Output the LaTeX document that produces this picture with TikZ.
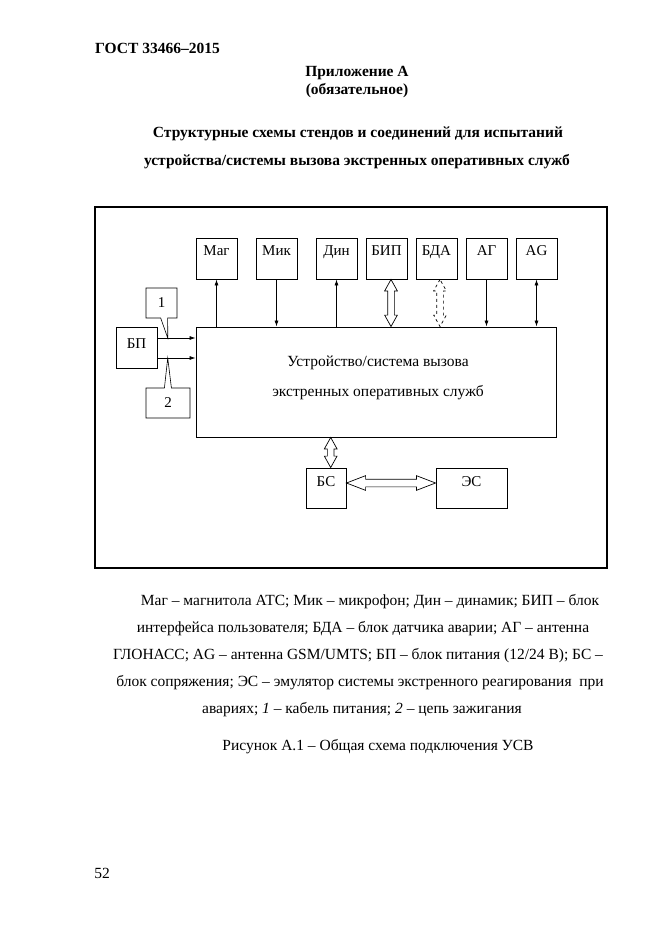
\documentclass[tikz,border=0pt]{standalone}
\usepackage{fontspec}
\setmainfont{Liberation Serif}
\usetikzlibrary{calc, positioning, arrows.meta, shapes.arrows, shapes.callouts}

\begin{document}
\begin{tikzpicture}[x=1pt, y=-1pt, >={Latex[length=6pt, width=4pt]},
  blk/.style={draw, line width=0.9pt, minimum width=41pt, minimum height=41pt, inner sep=0pt,
    text height=10pt, text depth=16pt, font=\fontsize{15}{16}\selectfont},
  txt/.style={font=\fontsize{15.5}{17}\selectfont},
  hdr/.style={font=\bfseries\fontsize{15.5}{17}\selectfont},
  lnk/.style={->, line width=0.7pt},
  fat/.style={double arrow, draw, line width=0.7pt, inner xsep=0pt, inner ysep=3pt,
    double arrow head extend=3pt, double arrow tip angle=58},
  call/.style={rectangle callout, draw, line width=0.6pt, inner sep=0pt, callout pointer width=7pt,
    font=\fontsize{15}{16}\selectfont}]
  \useasboundingbox (0,0) rectangle (661,935);

  % headings
  \node[hdr, anchor=west, inner sep=0pt] (gost) at (95,48) {ГОСТ 33466–2015};
  \node[hdr] (pril) at (357,73) {Приложение А};
  \node[hdr] (obyaz) at (357,91) {(обязательное)};
  \node[hdr] (title1) at (358,134) {Структурные схемы стендов и соединений для испытаний};
  \node[hdr] (title2) at (357,162) {устройства/системы вызова экстренных оперативных служб};

  % frame
  \draw[line width=1.2pt] (95,207) rectangle (607,568);

  % top blocks
  \node[blk] (mag) at (216.5,258.5) {Маг};
  \node[blk] (mik) at (276.5,258.5) {Мик};
  \node[blk] (din) at (336.5,258.5) {Дин};
  \node[blk] (bip) at (386.5,258.5) {БИП};
  \node[blk] (bda) at (436.5,258.5) {БДА};
  \node[blk] (ag) at (486.5,258.5) {АГ};
  \node[blk] (gsm) at (536.5,258.5) {AG};

  % main unit
  \node[draw, line width=0.9pt, minimum width=360pt, minimum height=110pt] (usv) at (376,382) {};
  \node[align=center, font=\fontsize{15.5}{30}\selectfont] (usvtxt) at (378,378)
    {Устройство/система вызова\\экстренных оперативных служб};

  % power supply
  \node[blk, text depth=8pt] (bp) at (136.5,347.5) {БП};

  % bottom blocks
  \node[blk, minimum width=40pt, minimum height=40pt, text depth=13pt] (bs) at (326,488) {БС};
  \node[blk, minimum width=71pt, minimum height=40pt, text depth=13pt] (es) at (471.5,488) {ЭС};

  % links
  \draw[lnk] (usv.north -| mag) -- (mag.south);
  \draw[lnk] (mik.south) -- (mik.south |- usv.north);
  \draw[lnk] (usv.north -| din) -- (din.south);
  \path let \p1=([xshift=4.5pt]bip.south), \p2=(\p1 |- usv.north) in
    node[fat, rotate=90, minimum height={veclen(\x2-\x1,\y2-\y1)}] (fbip) at ($(\p1)!.5!(\p2)$) {};
  \path let \p1=([xshift=3.5pt]bda.south), \p2=(\p1 |- usv.north) in
    node[fat, dashed, rotate=90, minimum height={veclen(\x2-\x1,\y2-\y1)}] (fbda) at ($(\p1)!.5!(\p2)$) {};
  \draw[lnk] (ag.south) -- (ag.south |- usv.north);
  \draw[lnk, <->] (gsm.south) -- (gsm.south |- usv.north);

  \draw[lnk] ([yshift=9.5pt]bp.east) coordinate (k1) -- (k1 -| usv.west);
  \draw[lnk] ([yshift=-10.5pt]bp.east) coordinate (k2) -- (k2 -| usv.west);
  \coordinate (p1) at ($(k1)!0.27!(k1 -| usv.west)$);
  \coordinate (p2) at ($(k2)!0.27!(k2 -| usv.west)$);
  \node[call, minimum width=31pt, minimum height=30pt, callout absolute pointer={(p1)}] (c1) at (161.5,303) {1};
  \node[call, minimum width=44pt, minimum height=30pt, callout absolute pointer={(p2)}] (c2) at (168,403) {2};

  \path let \p1=([xshift=4.7pt]bs.north), \p2=(\p1 |- usv.south) in
    node[fat, rotate=90, minimum height={veclen(\x2-\x1,\y2-\y1)}] (fbs) at ($(\p1)!.5!(\p2)$) {};
  \path let \p1=([yshift=5pt]bs.east), \p2=([yshift=5pt]es.west) in
    node[fat, inner ysep=3.5pt, double arrow head extend=3.5pt, double arrow tip angle=42,
      minimum height={veclen(\x2-\x1,\y2-\y1)}] (fes) at ($(\p1)!.5!(\p2)$) {};

  % legend
  \node[txt] (leg1) at (370,601.5) {Маг – магнитола АТС; Мик – микрофон; Дин – динамик; БИП – блок};
  \node[txt] (leg2) at (363,628.5) {интерфейса пользователя; БДА – блок датчика аварии; АГ – антенна};
  \node[txt] (leg3) at (358,655.5) {ГЛОНАСС; AG – антенна GSM/UMTS; БП – блок питания (12/24 В); БС –};
  \node[txt] (leg4) at (360,682.5) {блок сопряжения; ЭС – эмулятор системы экстренного реагирования\ \ при};
  \node[txt] (leg5) at (362,709.5) {авариях; \textit{1} – кабель питания; \textit{2} – цепь зажигания};
  \node[txt] (cap) at (378,747) {Рисунок А.1 – Общая схема подключения УСВ};

  \node[txt] (page) at (102,873) {52};
\end{tikzpicture}
\end{document}
